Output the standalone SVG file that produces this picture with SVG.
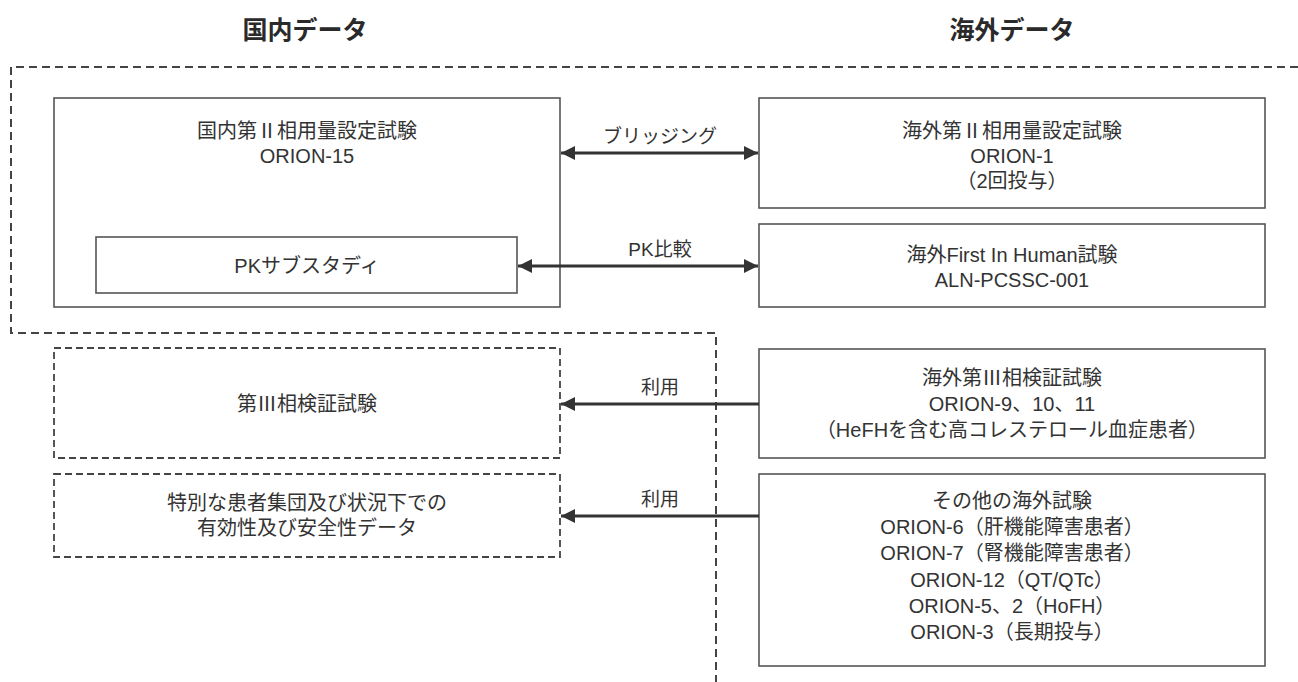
<svg xmlns="http://www.w3.org/2000/svg" width="1298" height="682" viewBox="0 0 1298 682">
<style>
  text { font-family: "Liberation Sans", "Noto Sans CJK JP", sans-serif; fill: #333; font-size: 20px; text-anchor: middle; }
  .title { font-size: 25px; font-weight: bold; fill: #2a2a2a; }
  .lbl { font-size: 19px; }
  .box { fill: #fff; stroke: #555; stroke-width: 1.6; }
  .dbox { fill: #fff; stroke: #444; stroke-width: 1.8; stroke-dasharray: 7 4; }
  .outer { fill: none; stroke: #444; stroke-width: 2; stroke-dasharray: 8 5; }
  .conn { stroke: #333; stroke-width: 3; fill: none; }
</style>
<defs>
  <marker id="ah" viewBox="0 0 10 10" refX="10" refY="5" markerWidth="4.8" markerHeight="4.8" markerUnits="strokeWidth" orient="auto-start-reverse">
    <path d="M0,0 L10,5 L0,10 Z" fill="#333"/>
  </marker>
</defs>
<rect width="1298" height="682" fill="#fff"/>
<text class="title" x="305" y="39">国内データ</text>
<text class="title" x="1012" y="39">海外データ</text>
<path class="outer" d="M1298,67 H11 V333 H716 V682"/>

<g id="domestic-phase2">
  <rect class="box" x="54" y="98" width="506" height="209"/>
  <text x="307" y="138">国内第Ⅱ相用量設定試験</text>
  <text x="307" y="163">ORION-15</text>
</g>
<g id="pk-substudy">
  <rect class="box" x="96" y="237" width="421" height="56"/>
  <text x="307" y="273">PKサブスタディ</text>
</g>
<g id="overseas-phase2">
  <rect class="box" x="759" y="98" width="506" height="110"/>
  <text x="1012" y="138">海外第Ⅱ相用量設定試験</text>
  <text x="1012" y="163">ORION-1</text>
  <text x="1012" y="188">（2回投与）</text>
</g>
<g id="overseas-fih">
  <rect class="box" x="759" y="224" width="506" height="83"/>
  <text x="1012" y="262">海外First In Human試験</text>
  <text x="1012" y="287">ALN-PCSSC-001</text>
</g>
<g id="domestic-phase3">
  <rect class="dbox" x="54" y="348" width="506" height="110"/>
  <text x="307" y="411">第Ⅲ相検証試験</text>
</g>
<g id="domestic-special">
  <rect class="dbox" x="54" y="474" width="506" height="83"/>
  <text x="307" y="510">特別な患者集団及び状況下での</text>
  <text x="307" y="535">有効性及び安全性データ</text>
</g>
<g id="overseas-phase3">
  <rect class="box" x="759" y="349" width="506" height="109"/>
  <text x="1012" y="385">海外第Ⅲ相検証試験</text>
  <text x="1012" y="411">ORION-9、10、11</text>
  <text x="1012" y="437">（HeFHを含む高コレステロール血症患者）</text>
</g>
<g id="overseas-other">
  <rect class="box" x="759" y="474" width="506" height="192"/>
  <text x="1012" y="508">その他の海外試験</text>
  <text x="1012" y="534">ORION-6（肝機能障害患者）</text>
  <text x="1012" y="560">ORION-7（腎機能障害患者）</text>
  <text x="1012" y="587">ORION-12（QT/QTc）</text>
  <text x="1012" y="613">ORION-5、2（HoFH）</text>
  <text x="1012" y="639">ORION-3（長期投与）</text>
</g>

<g id="connectors">
  <line class="conn" x1="561" y1="153" x2="758" y2="153" marker-start="url(#ah)" marker-end="url(#ah)"/>
  <text class="lbl" x="660" y="143">ブリッジング</text>
  <line class="conn" x1="518" y1="266" x2="758" y2="266" marker-start="url(#ah)" marker-end="url(#ah)"/>
  <text class="lbl" x="660" y="256">PK比較</text>
  <line class="conn" x1="759" y1="404" x2="561" y2="404" marker-end="url(#ah)"/>
  <text class="lbl" x="660" y="394">利用</text>
  <line class="conn" x1="759" y1="516" x2="561" y2="516" marker-end="url(#ah)"/>
  <text class="lbl" x="660" y="506">利用</text>
</g>
</svg>
